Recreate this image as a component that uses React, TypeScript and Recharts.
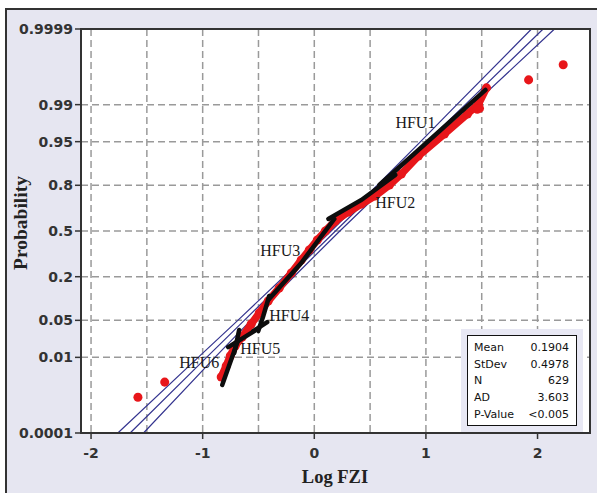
import React from "react";
import { ScatterChart, Scatter, XAxis, YAxis, CartesianGrid } from "recharts";

// Normal probability plot of Log FZI with hydraulic flow units (HFU)

const probTicks = [0.0001, 0.01, 0.05, 0.2, 0.5, 0.8, 0.95, 0.99, 0.9999];
const probTickLabels = ["0.0001", "0.01", "0.05", "0.2", "0.5", "0.8", "0.95", "0.99", "0.9999"];
const logFziTicks = [-2, -1.5, -1, -0.5, 0, 0.5, 1, 1.5, 2];

// red point cloud, read along the band
const dataLogFzi = [
  -0.834, -0.789, -0.753, -0.709, -0.646, -0.565, -0.493, -0.413, -0.314, -0.206, -0.117, -0.045,
  0.027, 0.099, 0.188, 0.305, 0.422, 0.547, 0.673, 0.78, 0.933, 1.166, 1.372, 1.471, 1.543,
];
const dataProb = [
  0.0036, 0.0065, 0.0107, 0.0171, 0.0255, 0.0434, 0.0655, 0.0987, 0.147, 0.2197, 0.2967, 0.363,
  0.434, 0.5, 0.573, 0.637, 0.69, 0.741, 0.8015, 0.853, 0.9164, 0.963, 0.9844, 0.9903, 0.9958,
];
const outlierLogFzi = [-1.58, -1.34, 1.92, 2.23];
const outlierProb = [0.0011, 0.0027, 0.9973, 0.9989];
const blobLogFzi = [1.48, 1.46];
const blobProb = [0.988, 0.9875];

// fitted line with 95% confidence band
const fitProb = [0.0001, 0.01, 0.05, 0.2, 0.5, 0.8, 0.95, 0.99, 0.9999];
const fitCenter = [-1.65, -0.965, -0.627, -0.228, 0.19, 0.609, 1.01, 1.352, 2.05];
const fitLower = [-1.76, -1.04, -0.685, -0.273, 0.151, 0.564, 0.952, 1.277, 1.946];
const fitUpper = [-1.53, -0.89, -0.569, -0.183, 0.229, 0.654, 1.068, 1.427, 2.152];

// HFU trend strokes
const hfu1LogFzi = [0.583, 1.534];
const hfu1Prob = [0.8015, 0.9953];
const hfu2LogFzi = [0.126, 0.422, 0.726];
const hfu2Prob = [0.5875, 0.716, 0.849];
const hfu3LogFzi = [-0.413, -0.117, 0.179];
const hfu3Prob = [0.102, 0.278, 0.5875];
const hfu4LogFzi = [-0.404, -0.457, -0.502];
const hfu4Prob = [0.1157, 0.0588, 0.0327];
const hfu4bLogFzi = [-0.547, -0.422];
const hfu4bProb = [0.0327, 0.0469];
const hfu5LogFzi = [-0.771, -0.538];
const hfu5Prob = [0.0163, 0.0327];
const hfu5bLogFzi = [-0.673, -0.717];
const hfu5bProb = [0.0341, 0.0123];
const hfu6LogFzi = [-0.825, -0.682];
const hfu6Prob = [0.0023, 0.0224];

const hfuNames = ["HFU1", "HFU2", "HFU3", "HFU4", "HFU5", "HFU6"];
const hfuLabelLogFzi = [0.906, 0.726, -0.305, -0.224, -0.484, -1.031];
const hfuLabelProb = [0.9776, 0.697, 0.363, 0.0588, 0.0156, 0.0079];

const statNames = ["Mean", "StDev", "N", "AD", "P-Value"];
const statValues = ["0.1904", "0.4978", "629", "3.603", "<0.005"];

// inverse normal CDF (Acklam) for the probability axis
function probit(p: number): number {
  const a = [-39.69683028665376, 220.9460984245205, -275.9285104469687, 138.357751867269, -30.66479806614716, 2.506628277459239];
  const b = [-54.47609879822406, 161.5858368580409, -155.6989798598866, 66.80131188771972, -13.28068155288572];
  const c = [-0.007784894002430293, -0.3223964580411365, -2.400758277161838, -2.549732539343734, 4.374664141464968, 2.938163982698783];
  const d = [0.007784695709041462, 0.3224671290700398, 2.445134137142996, 3.754408661907416];
  const pl = 0.02425;
  if (p < pl) {
    const q = Math.sqrt(-2 * Math.log(p));
    return (((((c[0] * q + c[1]) * q + c[2]) * q + c[3]) * q + c[4]) * q + c[5]) / ((((d[0] * q + d[1]) * q + d[2]) * q + d[3]) * q + 1);
  }
  if (p > 1 - pl) {
    const q = Math.sqrt(-2 * Math.log(1 - p));
    return -(((((c[0] * q + c[1]) * q + c[2]) * q + c[3]) * q + c[4]) * q + c[5]) / ((((d[0] * q + d[1]) * q + d[2]) * q + d[3]) * q + 1);
  }
  const q = p - 0.5;
  const r = q * q;
  return ((((((a[0] * r + a[1]) * r + a[2]) * r + a[3]) * r + a[4]) * r + a[5]) * q) / (((((b[0] * r + b[1]) * r + b[2]) * r + b[3]) * r + b[4]) * r + 1);
}

const toPoints = (xs: number[], ps: number[]) => xs.map((x, i) => ({ x, z: probit(ps[i]) }));

const yTicks = probTicks.map(probit);
const zMax = probit(0.9999);

const RED = "#e8161a";
const BLACK = "#0d0d0d";
const NAVY = "#34348f";

const noMark = () => <g />;

function XTick(props: any) {
  const { x, y, payload } = props;
  if (!Number.isInteger(payload.value)) return <g />;
  return (
    <g>
      <line x1={x} x2={x} y1={y - 8} y2={y - 2} stroke="#333" strokeWidth={1.5} />
      <text x={x} y={y + 17} textAnchor="middle" fill="#333" fontSize={14} fontWeight="bold" fontFamily="DejaVu Sans">
        {payload.value}
      </text>
    </g>
  );
}

function YTick(props: any) {
  const { x, y, index } = props;
  return (
    <g>
      <line x1={x + 2} x2={x + 8} y1={y} y2={y} stroke="#333" strokeWidth={1.5} />
      <text x={x} y={y + 5} textAnchor="end" fill="#333" fontSize={14} fontWeight="bold" fontFamily="DejaVu Sans">
        {probTickLabels[index]}
      </text>
    </g>
  );
}

function HfuLabel(props: any) {
  const { cx, cy, payload } = props;
  return (
    <text x={cx} y={cy + 5.5} textAnchor="middle" fill="#1a1a1a" fontSize={16} fontFamily="Liberation Serif">
      {payload.name}
    </text>
  );
}

export default function App() {
  const hfuLabels = hfuNames.map((name, i) => ({ name, x: hfuLabelLogFzi[i], z: probit(hfuLabelProb[i]) }));
  const hfuLines = [
    toPoints(hfu1LogFzi, hfu1Prob),
    toPoints(hfu2LogFzi, hfu2Prob),
    toPoints(hfu3LogFzi, hfu3Prob),
    toPoints(hfu4LogFzi, hfu4Prob),
    toPoints(hfu4bLogFzi, hfu4bProb),
    toPoints(hfu5LogFzi, hfu5Prob),
    toPoints(hfu5bLogFzi, hfu5bProb),
    toPoints(hfu6LogFzi, hfu6Prob),
  ];

  return (
    <div style={{ position: "absolute", left: 0, top: 0, width: 597, height: 493, background: "#fff", overflow: "hidden" }}>
      <div
        style={{
          position: "absolute",
          left: 5,
          top: 8,
          width: 592,
          height: 485,
          background: "#e6e6f1",
          borderTop: "2px solid #333",
          borderLeft: "2px solid #333",
          boxSizing: "border-box",
        }}
      />
      <div style={{ position: "absolute", left: 0, top: 0 }}>
        <ScatterChart width={597} height={493} margin={{ top: 29, right: 7, bottom: 0, left: 0 }}>
          <CartesianGrid fill="#fff" stroke="#9a9a9a" strokeWidth={1.5} strokeDasharray="7 4" />
          <XAxis
            type="number"
            dataKey="x"
            domain={[-2.09, 2.47]}
            ticks={logFziTicks}
            interval={0}
            height={60}
            axisLine={false}
            tickLine={false}
            tickSize={6}
            tickMargin={2}
            tick={<XTick />}
          />
          <YAxis
            type="number"
            dataKey="z"
            domain={[-zMax, zMax]}
            ticks={yTicks}
            interval={0}
            width={81}
            axisLine={false}
            tickLine={false}
            tickSize={6}
            tickMargin={2}
            tick={<YTick />}
          />
          <Scatter data={toPoints(fitLower, fitProb)} line={{ stroke: NAVY, strokeWidth: 1.2 }} shape={noMark} isAnimationActive={false} />
          <Scatter data={toPoints(fitCenter, fitProb)} line={{ stroke: NAVY, strokeWidth: 1.2 }} shape={noMark} isAnimationActive={false} />
          <Scatter data={toPoints(fitUpper, fitProb)} line={{ stroke: NAVY, strokeWidth: 1.2 }} shape={noMark} isAnimationActive={false} />
          <Scatter
            data={toPoints(dataLogFzi, dataProb)}
            fill={RED}
            line={{ stroke: RED, strokeWidth: 7.5, strokeLinecap: "round", strokeLinejoin: "round" }}
            shape="circle"
            isAnimationActive={false}
          />
          <Scatter data={toPoints(blobLogFzi, blobProb)} fill={RED} shape="circle" isAnimationActive={false} />
          <Scatter data={toPoints(outlierLogFzi, outlierProb)} fill={RED} shape="circle" isAnimationActive={false} />
          {hfuLines.map((pts, i) => (
            <Scatter
              key={i}
              data={pts}
              line={{ stroke: BLACK, strokeWidth: 4.5, strokeLinecap: "round" }}
              shape={noMark}
              isAnimationActive={false}
            />
          ))}
          <Scatter data={hfuLabels} shape={HfuLabel} isAnimationActive={false} />
        </ScatterChart>
      </div>
      {/* plot frame */}
      <div style={{ position: "absolute", left: 80, top: 28, width: 511, height: 406, border: "2px solid #333", boxSizing: "border-box", pointerEvents: "none" }} />
      {/* axis titles */}
      <div
        style={{
          position: "absolute",
          left: 21,
          top: 223,
          transform: "translate(-50%, -50%) rotate(-90deg)",
          fontFamily: "Liberation Serif",
          fontWeight: "bold",
          fontSize: 19.5,
          color: "#222",
          whiteSpace: "nowrap",
        }}
      >
        Probability
      </div>
      <div
        style={{
          position: "absolute",
          left: 335,
          top: 477,
          transform: "translate(-50%, -50%)",
          fontFamily: "Liberation Serif",
          fontWeight: "bold",
          fontSize: 18.5,
          color: "#222",
          whiteSpace: "nowrap",
        }}
      >
        Log FZI
      </div>
      {/* stats box */}
      <div style={{ position: "absolute", left: 461, top: 329, width: 122, height: 103, background: "#e8e8f4" }}>
        <div
          style={{
            position: "absolute",
            left: 6,
            top: 6,
            width: 110,
            height: 91,
            background: "#fff",
            border: "1.5px solid #111",
            boxSizing: "border-box",
            fontFamily: "DejaVu Sans",
            fontSize: 11,
            color: "#111",
          }}
        >
          {statNames.map((n, i) => (
            <div key={n} style={{ position: "absolute", left: 6, right: 7, top: 4 + i * 16.7, height: 16, display: "flex", justifyContent: "space-between", lineHeight: "16px" }}>
              <span>{n}</span>
              <span>{statValues[i]}</span>
            </div>
          ))}
        </div>
      </div>
    </div>
  );
}
